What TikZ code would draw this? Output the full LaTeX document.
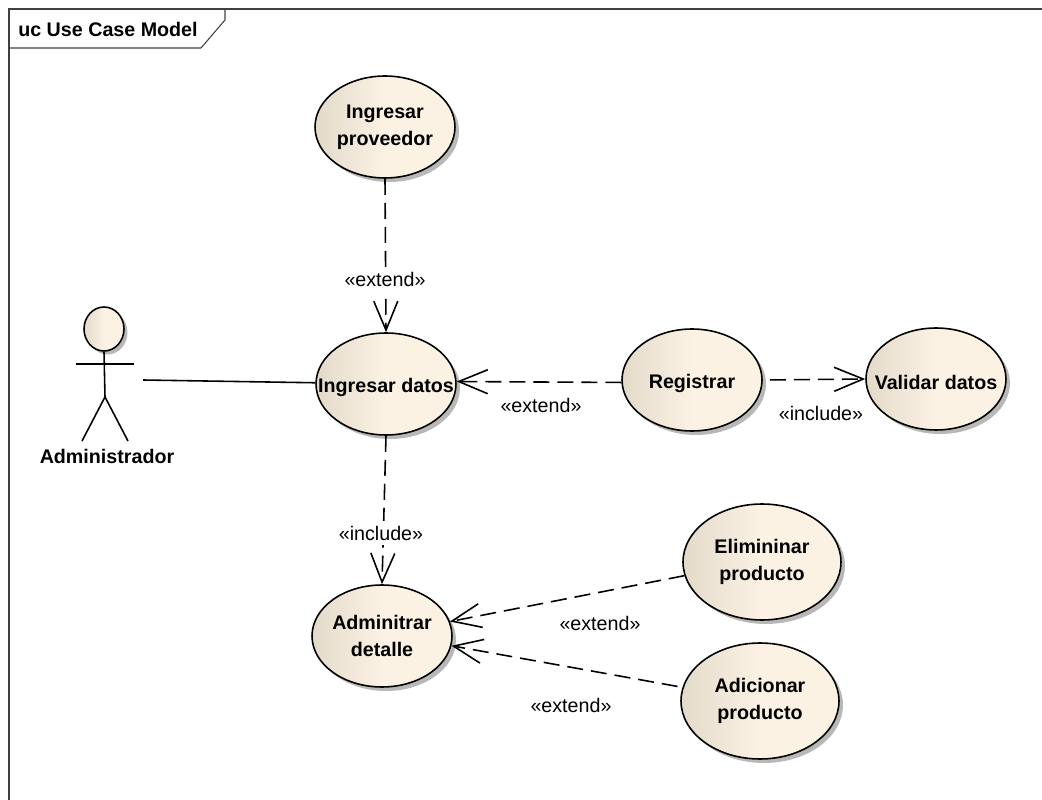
\documentclass[tikz,border=0pt]{standalone}
\usepackage{fontspec}
\setmainfont{Liberation Sans}
\usetikzlibrary{arrows.meta, shapes.geometric, shadows}
\definecolor{ucleft}{HTML}{E4DACA}
\definecolor{ucright}{HTML}{FBF2E4}
\tikzset{>={Straight Barb[length=.58cm, width=.48cm]},
  usecase/.style={ellipse, draw, line width=.9pt, inner xsep=-.5cm, inner ysep=0pt, align=center, font=\fontsize{11.2}{15.4}\selectfont\bfseries,
    minimum width=2.8cm, minimum height=2.04cm, left color=ucleft, right color=ucright, middle color=ucright,
    execute at begin node={\rule{0pt}{11.8pt}},
    drop shadow={shadow xshift=.08cm, shadow yshift=-.08cm, fill=black!35, opacity=.8}},
  twoline/.style={execute at begin node={\rule{0pt}{15pt}}},
  bigcase/.style={usecase, twoline, minimum width=3.16cm, minimum height=2.32cm},
  relation/.style={->, line width=.9pt, dash pattern=on .32cm off .16cm},
  stereo/.style={inner sep=1pt, font=\fontsize{11.2}{14}\selectfont},
  cutlabel/.style={stereo, fill=white, inner ysep=3pt},
  limb/.style={line width=.9pt}}
\begin{document}
\begin{tikzpicture}[x=.02cm, y=-.02cm]
\useasboundingbox (0,0) rectangle (1042,800);
\draw[line width=.6pt, black!75](1042,9)--(9,9)--(9,800);
\draw[line width=.6pt, black!75](225,9)--(225,20)--(201,48)--(9,48);
\node (title) at (108,29)[font=\fontsize{11.2}{14}\selectfont\bfseries]{uc Use Case Model};

\node (proveedor) at (385,127)[usecase, twoline]{Ingresar\\proveedor};
\node (datos) at (386,384)[usecase]{Ingresar datos};
\node (registrar) at (692,380)[usecase]{Registrar};
\node (validar) at (936,379)[usecase]{Validar datos};
\node (detalle) at (382,636)[usecase, twoline]{Adminitrar\\detalle};
\node (eliminar) at (762,562)[bigcase]{Elimininar\\producto};
\node (adicionar) at (760,701)[bigcase]{Adicionar\\producto};

\node (cabeza) at (104,329)[ellipse, draw, line width=.9pt, minimum width=.8cm, minimum height=.88cm, inner sep=0pt,
  left color=ucleft, right color=ucright, middle color=ucright,
  drop shadow={shadow xshift=.07cm, shadow yshift=-.07cm, fill=black!35, opacity=.8}]{};
\coordinate (cadera) at (105,397);
\coordinate (mano) at (143,380);
\draw[limb](cabeza.south)--(cadera);
\draw[limb](76,364)--(134,364);
\draw[limb](cadera)--(82,441);
\draw[limb](cadera)--(128,441);
\node (actor) at (107,456)[font=\fontsize{11.2}{14}\selectfont\bfseries]{Administrador};

\draw[line width=.9pt](mano)--(datos.179);
\draw[relation](proveedor.south)--(datos.north);
\draw[relation](registrar.182)--(datos.2);
\draw[relation, shorten <=.14cm](registrar.east)--(validar.west);
\draw[relation](datos.south)--(detalle.north);
\draw[relation](eliminar.190)--(detalle.12);
\draw[relation, shorten <=.1cm](adicionar.170)--(detalle.352);

\node (e1) at (385,279)[cutlabel]{«extend»};
\node (e2) at (541,405)[stereo]{«extend»};
\node (i1) at (821,413)[stereo]{«include»};
\node (i2) at (381,533)[cutlabel]{«include»};
\node (e3) at (600,623)[stereo]{«extend»};
\node (e4) at (571,705)[stereo]{«extend»};
\end{tikzpicture}
\end{document}
